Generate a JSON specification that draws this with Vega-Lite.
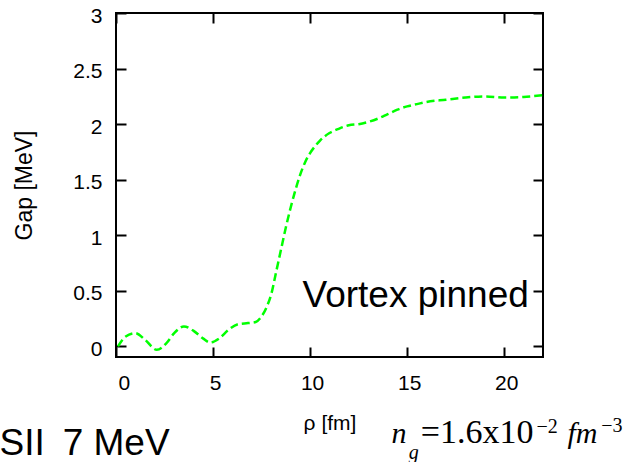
{
  "$schema": "https://vega.github.io/schema/vega-lite/v6.json",
  "autosize": "none",
  "width": 427,
  "height": 344,
  "padding": {"left": 116, "top": 13, "right": 88, "bottom": 105},
  "background": "white",
  "view": {"stroke": "black", "strokeWidth": 2},
  "config": {
    "font": "Liberation Sans"
  },
  "resolve": {"axis": {"x": "independent", "y": "independent"}},
  "layer": [
    {
      "data": {"values": [
        {"rho": 0.1, "gap": 0.0}, {"rho": 0.5, "gap": 0.09}, {"rho": 1.0, "gap": 0.12}, {"rho": 1.5, "gap": 0.06},
        {"rho": 2.1, "gap": -0.03}, {"rho": 2.6, "gap": 0.03}, {"rho": 3.0, "gap": 0.12}, {"rho": 3.5, "gap": 0.18},
        {"rho": 4.0, "gap": 0.14}, {"rho": 4.5, "gap": 0.07}, {"rho": 4.85, "gap": 0.035}, {"rho": 5.3, "gap": 0.07},
        {"rho": 5.8, "gap": 0.15}, {"rho": 6.3, "gap": 0.2}, {"rho": 6.8, "gap": 0.21}, {"rho": 7.2, "gap": 0.22},
        {"rho": 7.5, "gap": 0.27}, {"rho": 7.75, "gap": 0.35}, {"rho": 8.0, "gap": 0.47}, {"rho": 8.25, "gap": 0.67},
        {"rho": 8.5, "gap": 0.87}, {"rho": 8.75, "gap": 1.07}, {"rho": 9.0, "gap": 1.25}, {"rho": 9.25, "gap": 1.41},
        {"rho": 9.5, "gap": 1.55}, {"rho": 9.75, "gap": 1.66}, {"rho": 10.0, "gap": 1.74}, {"rho": 10.25, "gap": 1.8},
        {"rho": 10.5, "gap": 1.85}, {"rho": 10.75, "gap": 1.89}, {"rho": 11.0, "gap": 1.92}, {"rho": 11.5, "gap": 1.96},
        {"rho": 12.0, "gap": 1.99}, {"rho": 12.5, "gap": 2.0}, {"rho": 13.0, "gap": 2.02}, {"rho": 13.5, "gap": 2.05},
        {"rho": 14.0, "gap": 2.09}, {"rho": 14.5, "gap": 2.13}, {"rho": 15.0, "gap": 2.16}, {"rho": 15.5, "gap": 2.18},
        {"rho": 16.0, "gap": 2.2}, {"rho": 17.0, "gap": 2.22}, {"rho": 18.0, "gap": 2.24}, {"rho": 19.0, "gap": 2.25},
        {"rho": 20.0, "gap": 2.24}, {"rho": 21.0, "gap": 2.245}, {"rho": 22.0, "gap": 2.26}
      ]},
      "mark": {"type": "line", "color": "#00ff00", "strokeWidth": 2.5, "strokeDash": [8, 4], "interpolate": "monotone"},
      "encoding": {
        "x": {"field": "rho", "type": "quantitative",
              "scale": {"domain": [0, 22], "nice": false, "zero": false},
              "axis": {"orient": "bottom", "title": "ρ [fm]", "values": [0, 5, 10, 15, 20],
                       "domain": false, "grid": false, "tickColor": "black", "tickWidth": 2, "tickSize": -10,
                       "labelColor": "black", "labelFont": "Liberation Sans", "labelFontSize": 21,
                       "labelPadding": 25, "labelOffset": 2,
                       "titleColor": "black", "titleFont": "Liberation Sans", "titleFontSize": 21, "titleFontWeight": "normal", "titlePadding": 19}},
        "y": {"field": "gap", "type": "quantitative",
              "scale": {"domain": [-0.095, 3], "nice": false, "zero": false},
              "axis": {"orient": "left", "title": "Gap [MeV]", "values": [0, 0.5, 1, 1.5, 2, 2.5, 3], "format": "~g",
                       "domain": false, "grid": false, "tickColor": "black", "tickWidth": 2, "tickSize": -10,
                       "labelColor": "black", "labelFont": "Liberation Sans", "labelFontSize": 21,
                       "labelPadding": 24, "labelOffset": 3,
                       "titleColor": "black", "titleFont": "Liberation Sans", "titleFontSize": 23, "titleFontWeight": "normal", "titlePadding": 36}}
      }
    },
    {
      "data": {"values": [
        {"tx": 9.61, "ty": 0.357, "label": "Vortex pinned"},
        {"tx": -6.0, "ty": -0.974, "label": "SII"},
        {"tx": -2.75, "ty": -0.974, "label": "7 MeV"}
      ]},
      "mark": {"type": "text", "font": "Liberation Sans", "fontSize": 37, "align": "left", "baseline": "alphabetic", "color": "black"},
      "encoding": {
        "x": {"field": "tx", "type": "quantitative",
              "axis": {"orient": "top", "labels": false, "title": null, "values": [0, 5, 10, 15, 20],
                       "domain": false, "grid": false, "tickColor": "black", "tickWidth": 2, "tickSize": -10}},
        "y": {"field": "ty", "type": "quantitative",
              "axis": {"orient": "right", "labels": false, "title": null, "values": [0, 0.5, 1, 1.5, 2, 2.5, 3],
                       "domain": false, "grid": false, "tickColor": "black", "tickWidth": 2, "tickSize": -10}},
        "text": {"field": "label"}
      }
    },
    {
      "data": {"values": [
        {"tx": 14.2, "ty": -0.866, "label": "n"},
        {"tx": 23.26, "ty": -0.866, "label": "fm"}
      ]},
      "mark": {"type": "text", "font": "Liberation Serif", "fontStyle": "italic", "fontSize": 30, "align": "left", "baseline": "alphabetic", "color": "black"},
      "encoding": {
        "x": {"field": "tx", "type": "quantitative", "axis": null},
        "y": {"field": "ty", "type": "quantitative", "axis": null},
        "text": {"field": "label"}
      }
    },
    {
      "data": {"values": [
        {"tx": 15.7, "ty": -0.866, "label": "=1.6x10"}
      ]},
      "mark": {"type": "text", "font": "Liberation Serif", "fontSize": 34, "align": "left", "baseline": "alphabetic", "color": "black"},
      "encoding": {
        "x": {"field": "tx", "type": "quantitative", "axis": null},
        "y": {"field": "ty", "type": "quantitative", "axis": null},
        "text": {"field": "label"}
      }
    },
    {
      "data": {"values": [
        {"tx": 21.67, "ty": -0.78, "label": "−2"},
        {"tx": 25.0, "ty": -0.767, "label": "−3"}
      ]},
      "mark": {"type": "text", "font": "Liberation Serif", "fontSize": 20, "align": "left", "baseline": "alphabetic", "color": "black"},
      "encoding": {
        "x": {"field": "tx", "type": "quantitative", "axis": null},
        "y": {"field": "ty", "type": "quantitative", "axis": null},
        "text": {"field": "label"}
      }
    },
    {
      "data": {"values": [
        {"tx": 15.08, "ty": -1.01, "label": "g"}
      ]},
      "mark": {"type": "text", "font": "Liberation Serif", "fontStyle": "italic", "fontSize": 20, "align": "left", "baseline": "alphabetic", "color": "black"},
      "encoding": {
        "x": {"field": "tx", "type": "quantitative", "axis": null},
        "y": {"field": "ty", "type": "quantitative", "axis": null},
        "text": {"field": "label"}
      }
    }
  ]
}
